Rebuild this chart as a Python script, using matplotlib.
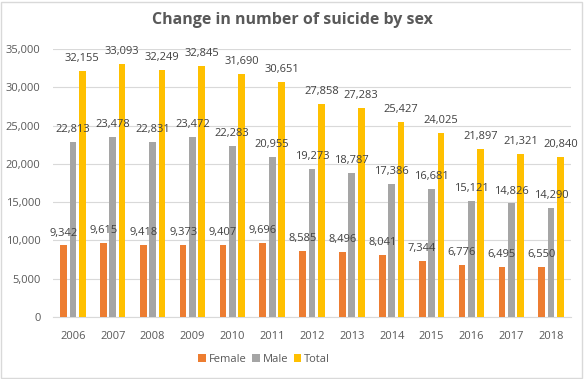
import matplotlib
matplotlib.use("Agg")
import matplotlib.pyplot as plt
import numpy as np
from matplotlib.patches import Rectangle

years = ["2006", "2007", "2008", "2009", "2010", "2011", "2012",
         "2013", "2014", "2015", "2016", "2017", "2018"]
female = [9342, 9615, 9418, 9373, 9407, 9696, 8585, 8496, 8041, 7344, 6776, 6495, 6550]
male = [22813, 23478, 22831, 23472, 22283, 20955, 19273, 18787, 17386, 16681, 15121, 14826, 14290]
total = [32155, 33093, 32249, 32845, 31690, 30651, 27858, 27283, 25427, 24025, 21897, 21321, 20840]

series = [("Female", female, "#ED7D31"), ("Male", male, "#A5A5A5"), ("Total", total, "#FFC000")]

plt.rcParams['font.family'] = ['Open Sans', 'DejaVu Sans']

fig = plt.figure(figsize=(5.84, 3.79), dpi=100)
fig.patches.append(Rectangle((0.002, 0.003), 0.995, 0.993, transform=fig.transFigure,
                             fill=False, edgecolor="#D9D9D9", linewidth=1))
ax = fig.add_axes([53/584, 1-317/379, (571-53)/584, (317-49)/379])

x = np.arange(len(years))
w = 0.168
offs = [-0.234, 0, 0.234]
for (name, vals, col), o in zip(series, offs):
    ax.bar(x + o, vals, width=w, color=col, label=name, zorder=3)
    for xi, v in zip(x, vals):
        ax.annotate(f"{v:,}", (xi + o, v), xytext=(0, 5), textcoords="offset points",
                    ha="center", va="bottom", fontsize=8, color="#404040", zorder=4)

ax.set_xlim(-0.5, len(years) - 0.5)
ax.set_ylim(0, 35000)
ax.set_yticks(np.arange(0, 35001, 5000))
ax.set_yticklabels([f"{t:,}" for t in range(0, 35001, 5000)])
ax.set_xticks(x)
ax.set_xticklabels(years)
ax.tick_params(axis="both", length=0, labelsize=8, colors="#595959")
ax.tick_params(axis="x", pad=10)
ax.tick_params(axis="y", pad=9)
ax.grid(axis="y", color="#D9D9D9", linewidth=0.8, zorder=0)
for s in ["top", "right", "left"]:
    ax.spines[s].set_visible(False)
ax.spines["bottom"].set_color("#D9D9D9")

fig.text(0.5, 1-20/379, "Change in number of suicide by sex", ha="center", va="center",
         fontsize=11.5, fontweight="bold", color="#595959")

ax.legend(loc="center", bbox_to_anchor=((264-53)/518, (317-359)/268), ncol=3, frameon=False,
          fontsize=8, handlelength=0.7, handleheight=0.7, handletextpad=0.25,
          columnspacing=0.5, labelcolor="#595959")

fig.savefig("out.png", dpi=100)
